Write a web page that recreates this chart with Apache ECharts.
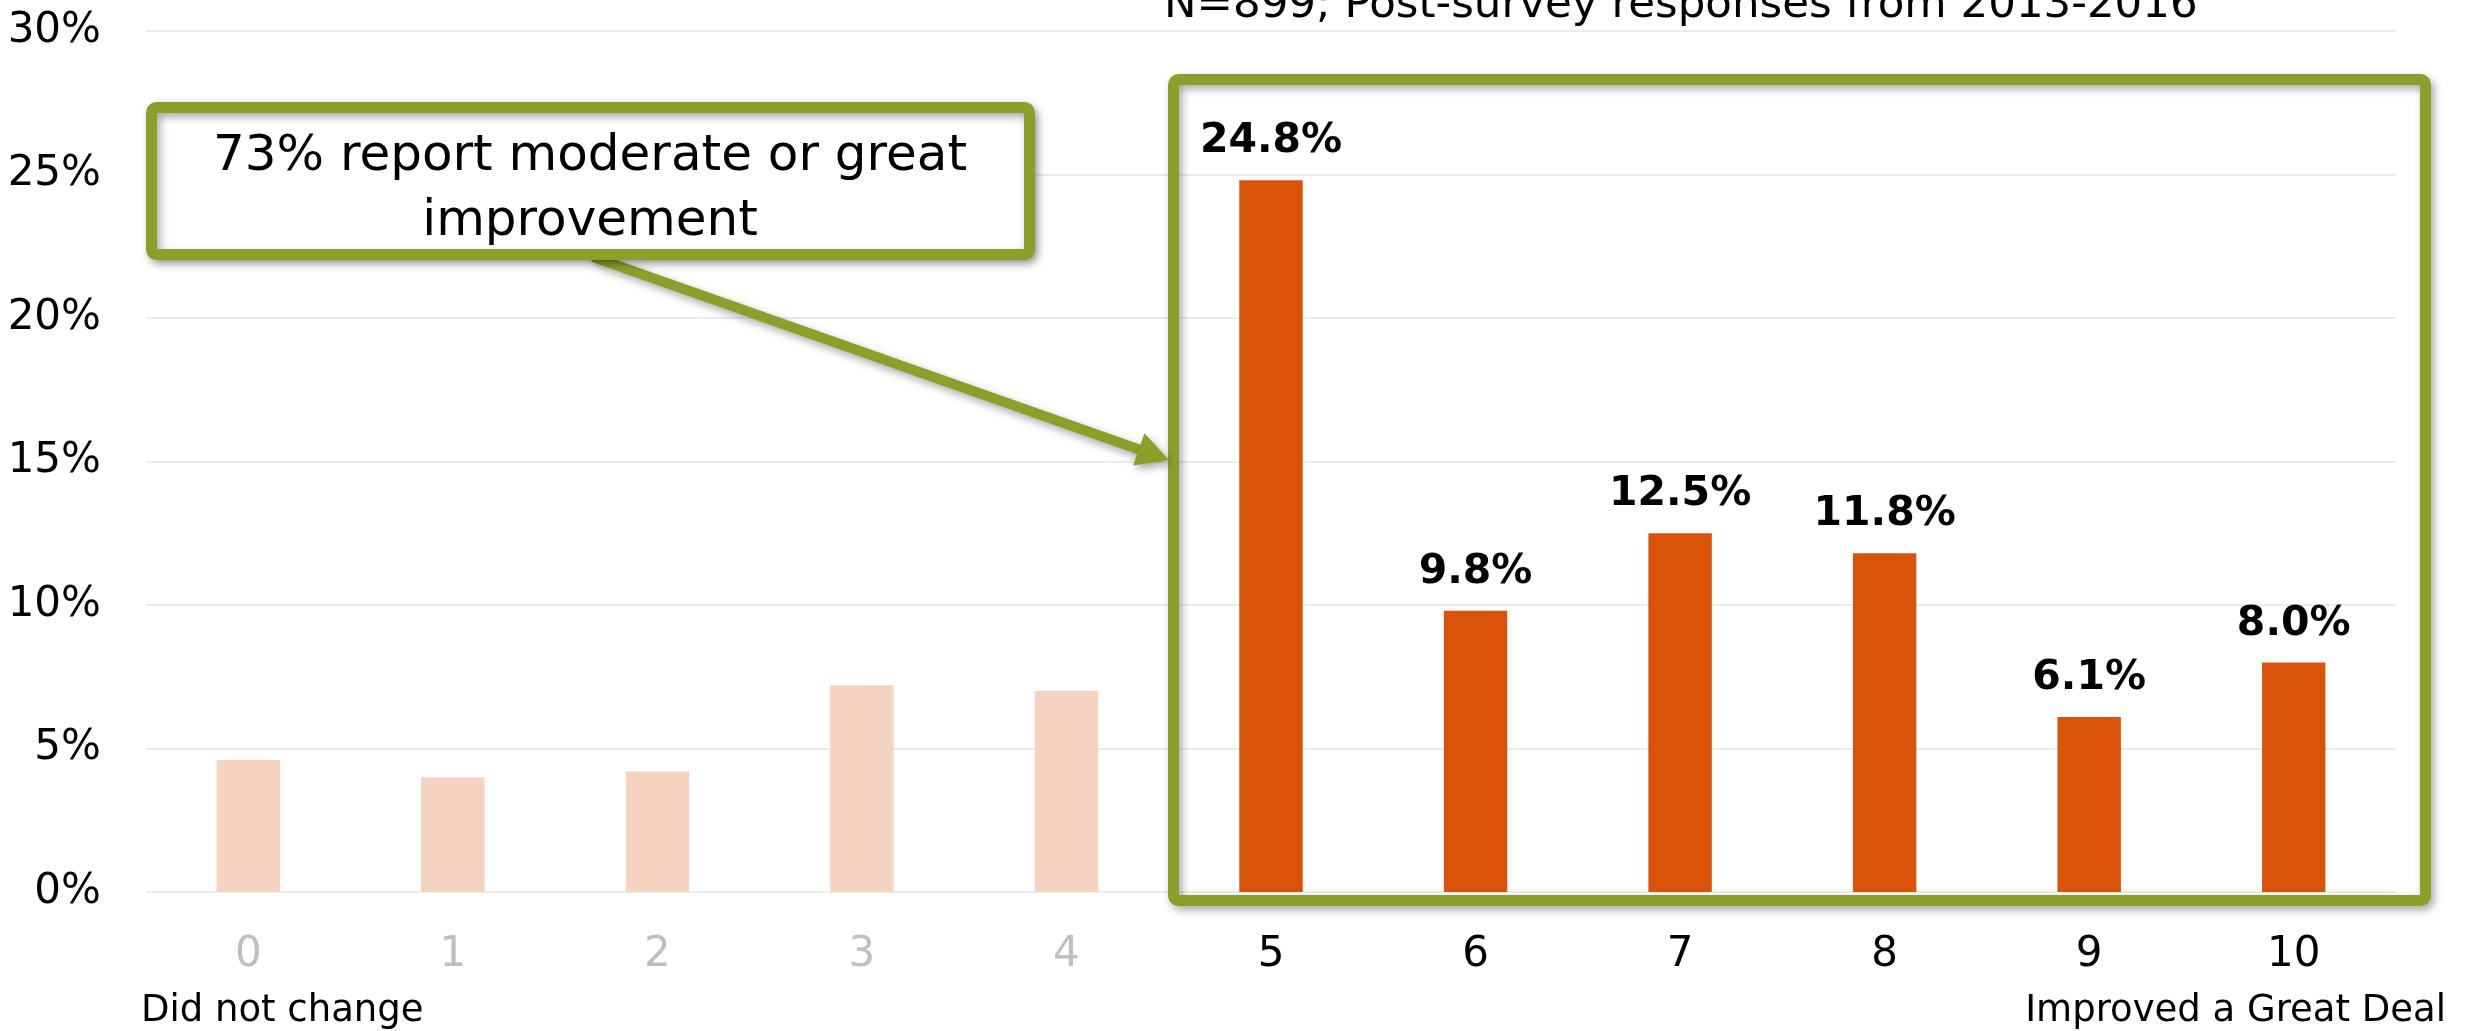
<!DOCTYPE html>
<html>
<head>
<meta charset="utf-8">
<script src="https://cdn.jsdelivr.net/npm/echarts@6/dist/echarts.min.js"></script>
<style>
html,body{margin:0;padding:0;background:#fff;}
#chart{width:2473px;height:1031px;}
</style>
</head>
<body>
<div id="chart"></div>
<script>
// ---- data ----
const categories = ['0','1','2','3','4','5','6','7','8','9','10'];
const values = [4.6, 4.0, 4.2, 7.2, 7.0, 24.8, 9.8, 12.5, 11.8, 6.1, 8.0];
const highlighted = [false, false, false, false, false, true, true, true, true, true, true];
const yTicks = [0, 5, 10, 15, 20, 25, 30];
const titleText = 'N=899; Post-survey responses from 2013-2016';
const calloutText = '73% report moderate or great\nimprovement';
const leftEndLabel = 'Did not change';
const rightEndLabel = 'Improved a Great Deal';

// ---- styles ----
const FONT = '"DejaVu Sans", sans-serif';
const ORANGE = '#D9540A';
const LIGHT = '#F5D3C0';
const GREEN = '#8AA02A';
const GRAY_LABEL = '#BFBFBF';

const chart = echarts.init(document.getElementById('chart'), null, {renderer: 'canvas'});

const barData = values.map((v, i) => ({
  value: v,
  itemStyle: {color: highlighted[i] ? ORANGE : LIGHT},
  label: {show: highlighted[i]}
}));

// arrow geometry
const arrowStart = [593, 257];
const arrowTip = [1169, 460];
const dx = arrowTip[0] - arrowStart[0], dy = arrowTip[1] - arrowStart[1];
const len = Math.sqrt(dx*dx + dy*dy);
const ux = dx/len, uy = dy/len, px = -uy, py = ux;
const headLen = 32, headHalf = 17;
const baseC = [arrowTip[0] - ux*headLen, arrowTip[1] - uy*headLen];
const shadow = {shadowBlur: 8, shadowColor: 'rgba(0,0,0,0.35)', shadowOffsetX: 3, shadowOffsetY: 4};

chart.setOption({
  animation: false,
  backgroundColor: '#fff',
  grid: {left: 146, right: 77, top: 31, bottom: 139, containLabel: false},
  xAxis: {
    type: 'category',
    data: categories,
    axisLine: {show: false},
    axisTick: {show: false},
    axisLabel: {
      margin: 42,
      fontFamily: FONT,
      fontSize: 42,
      color: (val, idx) => highlighted[categories.indexOf(val)] ? '#000' : GRAY_LABEL
    },
    splitLine: {show: false}
  },
  yAxis: {
    type: 'value',
    min: yTicks[0],
    max: yTicks[yTicks.length - 1],
    interval: 5,
    axisLine: {show: false},
    axisTick: {show: false},
    axisLabel: {
      margin: 45,
      fontFamily: FONT,
      fontSize: 42,
      color: '#000',
      formatter: '{value}%'
    },
    splitLine: {lineStyle: {color: '#EBEBEB', width: 2}}
  },
  series: [{
    type: 'bar',
    data: barData,
    barWidth: '31%',
    label: {
      position: 'top',
      distance: 18,
      fontFamily: FONT,
      fontSize: 41,
      fontWeight: 'bold',
      color: '#000',
      formatter: p => p.value.toFixed(1) + '%'
    },
    z: 2
  }],
  graphic: [
    {
      type: 'text', z: 10,
      style: {text: titleText, x: 1164, y: 6, font: '43.5px ' + FONT, fill: '#000',
               textAlign: 'left', textVerticalAlign: 'middle', verticalAlign: 'middle'}
    },
    {
      type: 'rect', z: 20,
      shape: {x: 1173.5, y: 79.5, width: 1252, height: 821, r: 5},
      style: Object.assign({fill: 'none', stroke: GREEN, lineWidth: 11}, shadow)
    },
    {
      type: 'line', z: 21,
      shape: {x1: arrowStart[0], y1: arrowStart[1], x2: baseC[0] + ux*4, y2: baseC[1] + uy*4},
      style: Object.assign({stroke: GREEN, lineWidth: 10}, shadow)
    },
    {
      type: 'polygon', z: 21,
      shape: {points: [arrowTip,
        [baseC[0] + px*headHalf, baseC[1] + py*headHalf],
        [baseC[0] - px*headHalf, baseC[1] - py*headHalf]]},
      style: Object.assign({fill: GREEN}, shadow)
    },
    {
      type: 'rect', z: 22,
      shape: {x: 151.5, y: 107.5, width: 878, height: 147, r: 5},
      style: Object.assign({fill: '#fff', stroke: GREEN, lineWidth: 11}, shadow)
    },
    {
      type: 'text', z: 23,
      style: {text: calloutText, x: 590, y: 190, font: '50px ' + FONT, fill: '#000',
               textAlign: 'center', textVerticalAlign: 'middle', verticalAlign: 'middle', lineHeight: 65}
    },
    {
      type: 'text', z: 10,
      style: {text: leftEndLabel, x: 141, y: 1011, font: '37px ' + FONT, fill: '#000',
               textAlign: 'left', textVerticalAlign: 'middle', verticalAlign: 'middle'}
    },
    {
      type: 'text', z: 10,
      style: {text: rightEndLabel, x: 2446, y: 1011, font: '37px ' + FONT, fill: '#000',
               textAlign: 'right', textVerticalAlign: 'middle', verticalAlign: 'middle'}
    }
  ]
});
</script>
</body>
</html>
